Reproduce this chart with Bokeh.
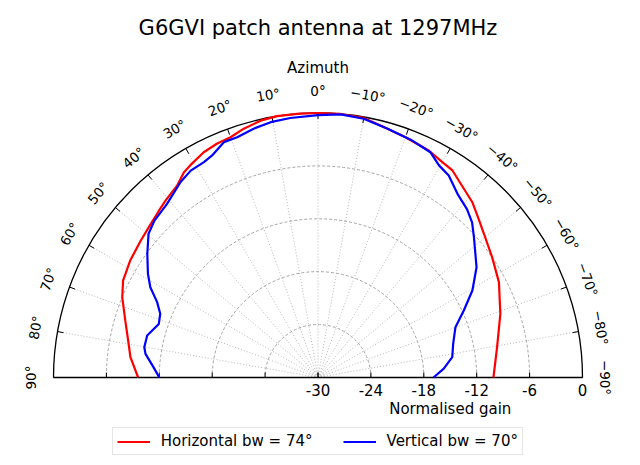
import numpy as np
from bokeh.plotting import figure
from bokeh.models import Range1d, Legend, LegendItem
from bokeh.embed import file_html
from bokeh.resources import INLINE
from bokeh.core.properties import value

# ---------------- data ----------------
title_text = "G6GVI patch antenna at 1297MHz"
theta_axis_label = "Azimuth"
r_axis_label = "Normalised gain"

r_ticks = [-30, -24, -18, -12, -6, 0]
r_tick_labels = ["-30", "-24", "-18", "-12", "-6", "0"]
theta_ticks = [90, 80, 70, 60, 50, 40, 30, 20, 10, 0,
               -10, -20, -30, -40, -50, -60, -70, -80, -90]
theta_tick_labels = ["90°", "80°", "70°", "60°", "50°", "40°", "30°", "20°", "10°", "0°",
                     "−10°", "−20°", "−30°", "−40°", "−50°", "−60°", "−70°", "−80°", "−90°"]

h_label = "Horizontal bw = 74°"
h_angle = [90, 83.8, 80.9, 73.5, 67.7, 63.5, 61.7, 58.0, 52.3, 48.0, 44.0, 40.7, 36.3,
           33.2, 31.0, 26.9, 23.3, 20.0, 16.6, 12.6, 8.9, 4.0, 0,
           -4.9, -10.0, -15.5, -20.0, -26.0, -30.0, -33.0, -36.9, -41.3, -45.4,
           -49.1, -55.4, -62.2, -70.8, -80.4, -90]
h_gain = [-9.6, -8.6, -8.3, -7.2, -6.0, -5.3, -5.2, -4.9, -4.6, -4.3, -3.9, -3.5, -3.0,
          -2.2, -1.9, -1.35, -1.1, -1.0, -0.55, -0.15, 0.0, 0.0, 0.0,
          0.0, -0.1, -0.7, -1.0, -1.35, -1.8, -2.0, -2.8, -3.5, -4.4,
          -5.1, -6.0, -6.8, -8.1, -9.4, -10.1]

v_label = "Vertical bw = 70°"
v_angle = [90, 86.4, 82.2, 80.1, 76.2, 71.4, 68.0, 64.9, 61.7, 58.6, 54.1, 49.7, 46.2,
           41.0, 35.1, 31.6, 27.9, 25.5, 21.8, 18.6, 14.5, 10.5, 6.1, 0,
           -4.9, -10.0, -15.5, -21.3, -26.5, -29.7, -32.9, -37.5, -41.5, -44.8,
           -48.0, -55.2, -60.6, -65.3, -69.9, -76.0, -81.4, -86.0, -90]
v_gain = [-12.0, -11.3, -10.25, -10.0, -10.05, -10.95, -10.7, -9.85, -8.4, -7.4, -6.1, -4.8, -4.3,
          -3.9, -2.9, -2.45, -2.35, -2.1, -1.25, -1.25, -0.85, -0.55, -0.4, -0.25,
          -0.05, -0.2, -0.7, -1.05, -1.45, -2.3, -2.7, -3.9, -4.5, -5.2,
          -6.2, -8.1, -9.9, -11.8, -13.4, -14.2, -14.6, -15.7, -16.9]

# ---------------- geometry helpers ----------------
R_MIN = r_ticks[0]
R_MAX = r_ticks[-1]
RSPAN = R_MAX - R_MIN
PX = RSPAN / 264.5          # data units per screen pixel
FONT = "DejaVu Sans"
CX, CY = 317.5, 377         # centre in canvas pixels (from top-left)


def polar(angle_deg, radius):
    a = np.radians(np.asarray(angle_deg, dtype=float))
    r = np.asarray(radius, dtype=float)
    return -r * np.sin(a), r * np.cos(a)


W, H = 632, 457
p = figure(width=W, height=H, output_backend="svg", toolbar_location=None,
           x_range=Range1d(-CX * PX, (W - CX) * PX),
           y_range=Range1d(-(H - CY) * PX, CY * PX),
           x_axis_location=None, y_axis_location=None,
           min_border=0, min_border_left=0, min_border_right=0,
           min_border_top=0, min_border_bottom=0)
p.outline_line_color = None
p.grid.visible = False
p.background_fill_color = "white"
p.border_fill_color = "white"

# radial grid circles (dashed)
grid_r = [v - R_MIN for v in r_ticks[1:-1]]
p.arc(x=[0] * len(grid_r), y=[0] * len(grid_r), radius=grid_r,
      start_angle=0, end_angle=np.pi, line_color="#9a9a9a",
      line_width=0.9, line_dash="3 2")

# angular spokes (dotted)
sx, sy = polar(theta_ticks, [RSPAN] * len(theta_ticks))
p.segment(x0=[0] * len(theta_ticks), y0=[0] * len(theta_ticks), x1=sx, y1=sy,
          line_color="#b0b0b0", line_width=0.9, line_dash="1 2")

# outer arc and baseline
p.arc(x=[0], y=[0], radius=[RSPAN], start_angle=0, end_angle=np.pi,
      line_color="black", line_width=1.3)
p.segment(x0=[-RSPAN], y0=[0], x1=[RSPAN], y1=[0], line_color="black", line_width=1.3)

# ticks on outer arc (inward)
tx0, ty0 = polar(theta_ticks, [RSPAN] * len(theta_ticks))
tx1, ty1 = polar(theta_ticks, [RSPAN - 6 * PX] * len(theta_ticks))
p.segment(x0=tx0, y0=ty0, x1=tx1, y1=ty1, line_color="black", line_width=1)

# ticks on baseline (both sides)
bt = [v - R_MIN for v in r_ticks[:-1]]
bx = bt + [-b for b in bt]
p.segment(x0=bx, y0=[0] * len(bx), x1=bx, y1=[5 * PX] * len(bx),
          line_color="black", line_width=1)

# radial tick labels
p.text(x=[v - R_MIN for v in r_ticks], y=[-12 * PX] * len(r_ticks), text=r_tick_labels,
       text_font=value(FONT), text_font_size="15px", text_align="center",
       text_baseline="middle", text_color="black")

# angle labels
lx, ly = polar(theta_ticks, [287 * PX] * len(theta_ticks))
p.text(x=lx, y=ly, text=theta_tick_labels, angle=list(np.radians(theta_ticks)),
       text_font=value(FONT), text_font_size="13.5px", text_align="center",
       text_baseline="middle", text_color="black")

# axis labels and title
p.text(x=[(-15 - R_MIN)], y=[-31 * PX], text=[r_axis_label], text_font=value(FONT),
       text_font_size="15px", text_align="center", text_baseline="middle", text_color="black")
p.text(x=[0], y=[310 * PX], text=[theta_axis_label], text_font=value(FONT),
       text_font_size="15px", text_align="center", text_baseline="middle", text_color="black")
p.text(x=[0], y=[350 * PX], text=[title_text], text_font=value(FONT),
       text_font_size="21px", text_align="center", text_baseline="middle", text_color="black")

# curves
hx, hy = polar(h_angle, np.asarray(h_gain) - R_MIN)
vx, vy = polar(v_angle, np.asarray(v_gain) - R_MIN)
rh = p.line(hx, hy, line_color="#ff0000", line_width=2.2)
rv = p.line(vx, vy, line_color="#0000ff", line_width=2.2)

legend = Legend(items=[LegendItem(label=h_label, renderers=[rh]),
                       LegendItem(label=v_label, renderers=[rv])],
                orientation="horizontal", location=(111.7, H - 455), margin=0,
                padding=4, spacing=30, label_standoff=11,
                glyph_width=33, glyph_height=17, label_height=17,
                label_text_font=FONT, label_text_font_size="15px",
                label_text_color="black",
                border_line_color="#cccccc", border_line_width=1,
                background_fill_color="white", background_fill_alpha=1)
p.add_layout(legend)

open("out.html", "w").write(file_html(p, INLINE))
